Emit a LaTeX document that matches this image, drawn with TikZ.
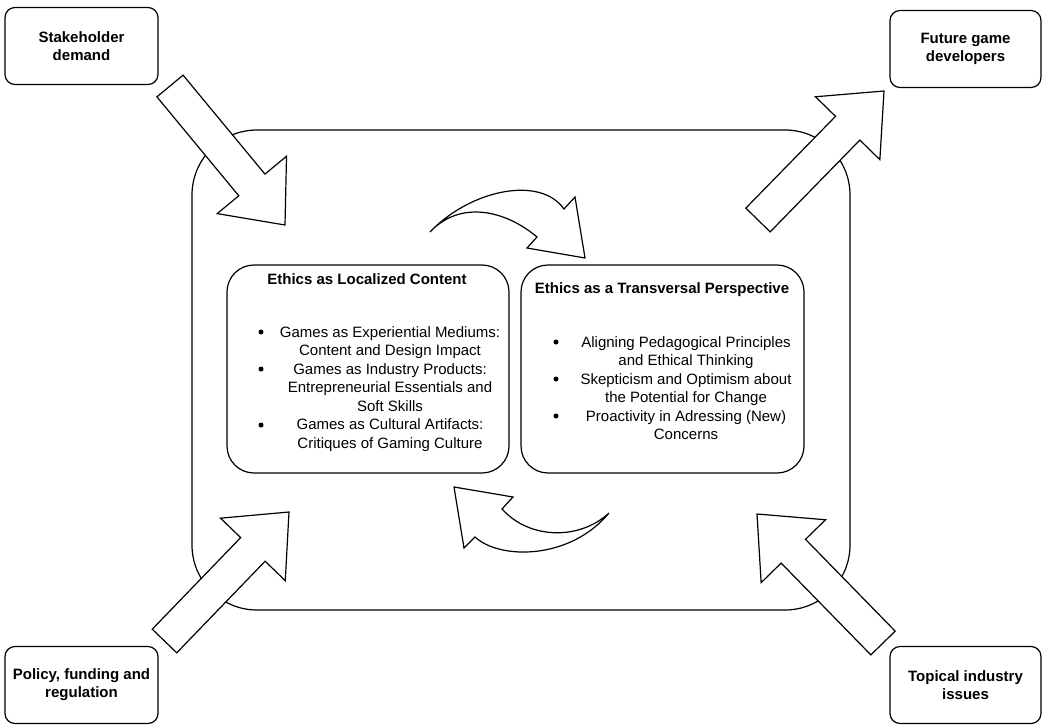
\documentclass[tikz,border=0pt]{standalone}
\usepackage{fontspec}
\setmainfont{Liberation Sans}
\usetikzlibrary{calc}
\tikzset{
  lw/.style={line width=1.2pt, draw=black},
  cornerbox/.style={lw, rounded corners=10pt, minimum width=153pt, minimum height=77pt,
    align=center, inner sep=0pt, font=\fontsize{15}{18}\selectfont\bfseries},
  framebox/.style={lw, rounded corners=65pt, minimum width=658pt, minimum height=480pt, inner sep=0pt},
  innerbox/.style={lw, rounded corners=27pt, minimum height=208pt, inner sep=0pt},
  titletext/.style={anchor=base, inner sep=0pt, font=\fontsize{15}{18.5}\selectfont\bfseries},
  itemtext/.style={anchor=north, inner sep=0pt, align=center, font=\fontsize{15}{18.5}\selectfont},
  bul/.style={circle, fill=black, inner sep=0pt, minimum size=5pt},
  barrow/.style={lw, fill=white, line join=miter},
}
\newcommand{\blockarrow}[3]{%
  \coordinate (#1-h) at ($(#3)!52pt!(#2)$);
  \draw[barrow] ($(#2)!17pt!90:(#3)$) -- ($(#1-h)!17pt!90:(#3)$) -- ($(#1-h)!45pt!90:(#3)$)
    -- (#3) -- ($(#1-h)!45pt!-90:(#3)$) -- ($(#1-h)!17pt!-90:(#3)$) -- ($(#2)!17pt!-90:(#3)$) -- cycle;
}
\begin{document}
\begin{tikzpicture}[x=1pt, y=-1pt]
\useasboundingbox (0,0) rectangle (1044,725);

% outer frame
\node[framebox] (frame) at (521,370) {};

% corner boxes
\node[cornerbox] (stake) at (81.5,46) {Stakeholder\\demand};
\node[cornerbox, minimum width=151pt] (future) at (965.5,49) {Future game\\developers};
\node[cornerbox] (policy) at (81.5,685) {Policy, funding and\\regulation};
\node[cornerbox, minimum width=151pt] (topical) at (965.5,685) {Topical industry\\issues};

% block arrows
\coordinate (a1t) at (170,86);   \coordinate (a1h) at (285,225);
\coordinate (a2t) at (758,220);  \coordinate (a2h) at (884,91);
\coordinate (a3t) at (164.5,641);\coordinate (a3h) at (289,512);
\coordinate (a4t) at (883,643);  \coordinate (a4h) at (757,514);
\blockarrow{arA}{a1t}{a1h}
\blockarrow{arB}{a2t}{a2h}
\blockarrow{arC}{a3t}{a3h}
\blockarrow{arD}{a4t}{a4h}

% inner boxes
\node[innerbox, minimum width=282pt] (left) at (368,369) {};
\node[innerbox, minimum width=283pt] (right) at (662.5,369) {};

% titles
\node[titletext] (ltitle) at (367,284) {Ethics as Localized Content};
\node[titletext] (rtitle) at (662,293) {Ethics as a Transversal Perspective};

% left items
\node[bul] (lb1) at (261,332) {};
\node[bul] (lb2) at (261,369) {};
\node[bul] (lb3) at (261,425) {};
\node[itemtext] (li1) at (390,337-12.95) {\strut Games as Experiential Mediums:\\Content and Design Impact};
\node[itemtext] (li2) at (390,374-12.95) {\strut Games as Industry Products:\\Entrepreneurial Essentials and\\Soft Skills};
\node[itemtext] (li3) at (390,429.5-12.95) {\strut Games as Cultural Artifacts:\\Critiques of Gaming Culture};

% right items
\node[bul] (rb1) at (556,342) {};
\node[bul] (rb2) at (556,379) {};
\node[bul] (rb3) at (556,416) {};
\node[itemtext] (ri1) at (686,347-12.95) {\strut Aligning Pedagogical Principles\\and Ethical Thinking};
\node[itemtext] (ri2) at (686,384-12.95) {\strut Skepticism and Optimism about\\the Potential for Change};
\node[itemtext] (ri3) at (686,421-12.95) {\strut Proactivity in Adressing (New)\\Concerns};

% curved arrows
\draw[barrow] (430,232) .. controls (470,190) and (540,175) .. (564,209) -- (575,197) -- (585,258)
  -- (527,248) -- (537,237) .. controls (505,210) and (460,200) .. (430,232) -- cycle;
\draw[barrow] (609,513) .. controls (580,540) and (530,540) .. (502,509) -- (513,497) -- (454,487)
  -- (464,548) -- (475,537) .. controls (500,560) and (570,560) .. (609,513) -- cycle;
\end{tikzpicture}
\end{document}
